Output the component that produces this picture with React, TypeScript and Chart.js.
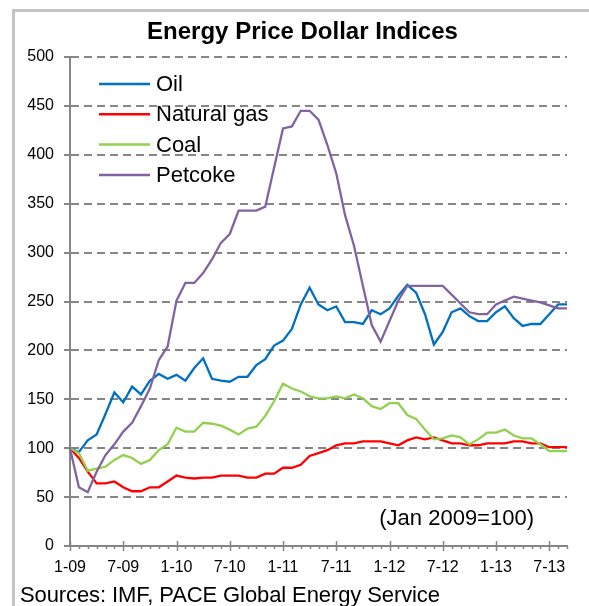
import React, { useEffect, useRef } from "react";
import { Chart, registerables } from "chart.js";

Chart.register(...registerables);

const months = [
  "1-09", "2-09", "3-09", "4-09", "5-09", "6-09", "7-09", "8-09", "9-09", "10-09", "11-09", "12-09",
  "1-10", "2-10", "3-10", "4-10", "5-10", "6-10", "7-10", "8-10", "9-10", "10-10", "11-10", "12-10",
  "1-11", "2-11", "3-11", "4-11", "5-11", "6-11", "7-11", "8-11", "9-11", "10-11", "11-11", "12-11",
  "1-12", "2-12", "3-12", "4-12", "5-12", "6-12", "7-12", "8-12", "9-12", "10-12", "11-12", "12-12",
  "1-13", "2-13", "3-13", "4-13", "5-13", "6-13", "7-13", "8-13", "9-13",
];

const oil = [
  100, 96, 108, 114, 135, 157, 147, 163, 155, 169, 176, 171,
  175, 169, 182, 192, 171, 169, 168, 173, 173, 185, 191, 205,
  210, 222, 247, 264, 247, 241, 245, 229, 229, 227, 241, 237,
  243, 256, 267, 259, 237, 206, 219, 239, 243, 235, 230, 230,
  239, 245, 233, 225, 227, 227, 237, 247, 247,
];

const naturalGas = [
  100, 90, 76, 64, 64, 66, 60, 56, 56, 60, 60, 66,
  72, 70, 69, 70, 70, 72, 72, 72, 70, 70, 74, 74,
  80, 80, 83, 92, 95, 98, 103, 105, 105, 107, 107, 107,
  105, 103, 108, 111, 109, 111, 108, 105, 105, 103, 103, 105,
  105, 105, 107, 107, 105, 105, 101, 101, 101,
];

const coal = [
  100, 95, 77, 79, 81, 88, 93, 90, 84, 88, 98, 104,
  121, 117, 117, 126, 125, 123, 119, 114, 120, 122, 133, 148,
  166, 161, 158, 153, 151, 151, 153, 151, 155, 151, 143, 140,
  146, 146, 134, 130, 119, 109, 110, 113, 111, 104, 109, 116,
  116, 119, 113, 110, 110, 104, 97, 97, 97,
];

const petcoke = [
  100, 60, 55, 76, 93, 104, 117, 126, 143, 161, 190, 204,
  251, 269, 269, 279, 293, 310, 319, 343, 343, 343, 347, 387,
  427, 429, 445, 445, 436, 410, 381, 338, 307, 266, 226, 209,
  230, 251, 266, 266, 266, 266, 266, 257, 248, 239, 237, 237,
  247, 251, 255, 253, 251, 249, 246, 243, 243,
];

const seriesNames = ["Oil", "Natural gas", "Coal", "Petcoke"];
const seriesColors = ["#0070C0", "#FF0000", "#92D050", "#8064A2"];
const seriesData = [oil, naturalGas, coal, petcoke];

const yMin = 0;
const yMax = 500;
const yStep = 50;
const majorEvery = 6;

const titleText = "Energy Price Dollar Indices";
const noteText = "(Jan 2009=100)";
const sourceText = "Sources: IMF, PACE Global Energy Service";

const FONT = "'Liberation Sans', Arial, Helvetica, sans-serif";
const AXIS_GRAY = "#868686";

const overlayPlugin = {
  id: "overlay",
  afterDatasetsDraw(chart: any) {
    const { ctx, chartArea, scales, width } = chart;
    const xs = scales.x;
    ctx.save();
    // title (centred on the whole chart box)
    ctx.fillStyle = "#000";
    ctx.font = `bold 24px ${FONT}`;
    ctx.textAlign = "center";
    ctx.textBaseline = "middle";
    ctx.fillText(titleText, width / 2, 19);
    // x-axis tick marks
    ctx.strokeStyle = AXIS_GRAY;
    ctx.lineWidth = 1.5;
    const yb = chartArea.bottom;
    months.forEach((_m, i) => {
      const px = Math.round(xs.getPixelForValue(i)) + 0.5;
      const major = i % majorEvery === 0;
      ctx.beginPath();
      ctx.moveTo(px, major ? yb - 5 : yb);
      ctx.lineTo(px, yb + (major ? 5 : 3));
      ctx.stroke();
    });
    // legend inside plot
    ctx.font = `22px ${FONT}`;
    ctx.textBaseline = "middle";
    ctx.textAlign = "left";
    chart.data.datasets.forEach((ds: any, k: number) => {
      const ly = chartArea.top + 27 + k * 30.3;
      ctx.strokeStyle = ds.borderColor;
      ctx.lineWidth = 2.5;
      ctx.beginPath();
      ctx.moveTo(chartArea.left + 29, ly);
      ctx.lineTo(chartArea.left + 80, ly);
      ctx.stroke();
      ctx.fillStyle = "#000";
      ctx.fillText(ds.label, chartArea.left + 86, ly + 1);
    });
    // note
    ctx.textAlign = "right";
    ctx.fillText(noteText, chartArea.right - 33, chartArea.bottom - 27);
    ctx.restore();
  },
};

export default function App() {
  const canvasRef = useRef<HTMLCanvasElement | null>(null);

  useEffect(() => {
    if (!canvasRef.current) return;
    Chart.defaults.font.family = FONT;
    const chart = new Chart(canvasRef.current, {
      type: "line",
      data: {
        labels: months,
        datasets: seriesNames.map((name, k) => ({
          label: name,
          data: seriesData[k],
          borderColor: seriesColors[k],
          backgroundColor: seriesColors[k],
          borderWidth: 2.3,
          pointRadius: 0,
          tension: 0,
          fill: false,
          order: seriesNames.length - 1 - k,
        })),
      },
      options: {
        responsive: false,
        animation: false,
        layout: { padding: { left: 0, right: 22, top: 44, bottom: 7 } },
        plugins: {
          legend: { display: false },
          tooltip: { enabled: false },
          title: { display: false },
        },
        scales: {
          x: {
            type: "category",
            offset: false,
            grid: { display: false, drawTicks: false },
            border: { display: true, color: AXIS_GRAY, width: 2 },
            ticks: {
              autoSkip: false,
              maxRotation: 0,
              minRotation: 0,
              padding: 12,
              color: "#000",
              font: { size: 16 },
              callback: (_v: any, i: number) => (i % majorEvery === 0 ? months[i] : ""),
            },
            afterFit: (s: any) => {
              s.height = 30;
            },
          },
          y: {
            min: yMin,
            max: yMax,
            ticks: { stepSize: yStep, color: "#000", font: { size: 16 }, padding: 10 },
            grid: {
              color: AXIS_GRAY,
              lineWidth: 2,
              drawTicks: true,
              tickLength: 6,
              tickColor: AXIS_GRAY,
              tickWidth: 2,
              tickBorderDash: [],
            },
            border: { display: true, color: AXIS_GRAY, width: 2, dash: [8, 5] },
            afterFit: (s: any) => {
              s.width = 54;
            },
          },
        },
      },
      plugins: [overlayPlugin],
    });
    return () => chart.destroy();
  }, []);

  return (
    <div
      style={{
        position: "fixed",
        left: 0,
        top: 0,
        width: 589,
        height: 606,
        overflow: "hidden",
        background: "#fff",
        fontFamily: FONT,
      }}
    >
      <div
        style={{
          position: "absolute",
          left: 12,
          top: 9,
          width: 700,
          height: 700,
          borderLeft: "3px solid #C4C4C4",
          borderTop: "3px solid #C4C4C4",
        }}
      />
      <canvas
        ref={canvasRef}
        width={573}
        height={570}
        style={{ position: "absolute", left: 16, top: 13, width: 573, height: 570 }}
      />
      <div
        style={{
          position: "absolute",
          left: 20,
          top: 582,
          fontSize: 22,
          whiteSpace: "nowrap",
          color: "#000",
          lineHeight: "25px",
          letterSpacing: "-0.1px",
        }}
      >
        {sourceText}
      </div>
    </div>
  );
}
